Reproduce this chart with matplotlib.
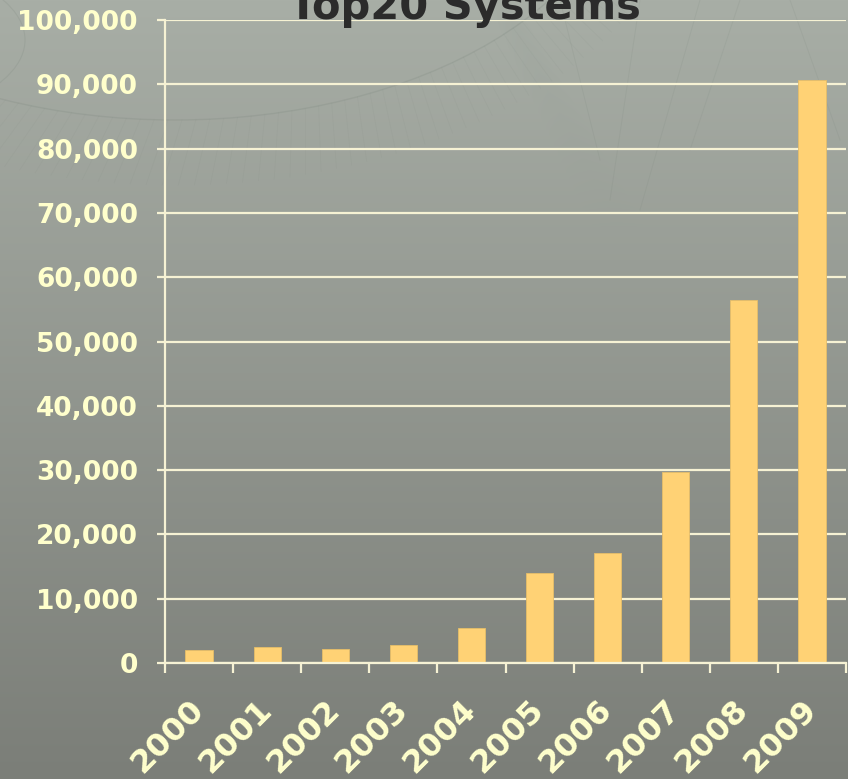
#!/usr/bin/env python3
import numpy as np
import matplotlib
matplotlib.use("Agg")
import matplotlib.pyplot as plt
from matplotlib.patches import Arc
from matplotlib.ticker import FuncFormatter
import matplotlib.transforms as mtransforms

years = ['2000', '2001', '2002', '2003', '2004', '2005', '2006', '2007', '2008', '2009']
totals = [2050, 2480, 2120, 2800, 5430, 14000, 17030, 29660, 56500, 90700]
title = 'Top20 Systems'

cream = '#FFFFCC'
grid_col = '#F6F2D4'
bar_col = '#FFD275'

matplotlib.rcParams['font.weight'] = 'bold'

W, H = 848, 779
fig = plt.figure(figsize=(W / 100, H / 100), dpi=100)

# slide background: vertical grey-green gradient, a soft darker diagonal band
yy, xx = np.mgrid[0:H, 0:W].astype(float)
t = yy / (H - 1)
top = np.array([168, 174, 166]) / 255
bot = np.array([123, 126, 120]) / 255
img = top * (1 - t[..., None]) + bot * t[..., None]
# band running from (500, 0) down to (615, 220), fading out with depth
cx = 500 + (yy / 220.0) * 115
half = 14 + yy * 0.06
inside = np.clip(1 - np.abs(xx - cx) / half, 0, 1) ** 0.5
fade = np.clip(1 - yy / 240.0, 0, 1)
dark = 0.06 * inside * fade
img = img * (1 - dark[..., None]) + np.array([0.45, 0.52, 0.49]) * dark[..., None]

bg = fig.add_axes([0, 0, 1, 1])
bg.imshow(img, aspect='auto', extent=[0, W, H, 0], interpolation='bilinear')
bg.set_xlim(0, W)
bg.set_ylim(H, 0)
bg.axis('off')

line_col = '#7A857C'
bg.add_patch(Arc((175, -150), 900, 540, theta1=0, theta2=180, color=line_col, lw=1.0, alpha=0.22))
for a in np.radians(np.linspace(20, 160, 80)):
    xa, ya = 175 + 450 * np.cos(a), -150 + 270 * np.sin(a)
    xb, yb = 175 + 520 * np.cos(a + 0.04), -150 + 335 * np.sin(a + 0.04)
    bg.plot([xa, xb], [ya, yb], color=line_col, lw=0.5, alpha=0.10)
bg.add_patch(Arc((-160, 40), 370, 170, theta1=-90, theta2=90, color=line_col, lw=0.8, alpha=0.2))
for (xa, ya, xb, yb) in [(560, 0, 600, 160), (640, 0, 610, 200), (700, 0, 640, 210),
                          (740, 0, 690, 150), (790, 0, 840, 140)]:
    bg.plot([xa, xb], [ya, yb], color=line_col, lw=0.7, alpha=0.15)

# chart area
x0, x1 = 165, 846
y0, y1 = 663, 20
ax = fig.add_axes([x0 / W, 1 - y0 / H, (x1 - x0) / W, (y0 - y1) / H])
ax.patch.set_alpha(0)

idx = np.arange(len(years))
ax.bar(idx, totals, width=0.4, color=bar_col, edgecolor='#E6BE69', linewidth=0.6, zorder=3)

ax.set_xlim(-0.5, len(years) - 0.5)
ax.set_ylim(0, 100000)
ax.set_yticks(np.arange(0, 100001, 10000))
ax.yaxis.set_major_formatter(FuncFormatter(lambda v, p: f'{int(v):,}'))
ax.grid(axis='y', color=grid_col, lw=1.6, zorder=1)
ax.set_axisbelow(True)

for s in ('top', 'right'):
    ax.spines[s].set_visible(False)
for s in ('left', 'bottom'):
    ax.spines[s].set_color(grid_col)
    ax.spines[s].set_linewidth(1.6)
    ax.spines[s].set_zorder(4)

ax.tick_params(axis='y', colors=grid_col, length=6, width=1.6, pad=13.5,
               labelcolor=cream, labelsize=19)

# tick marks at the category boundaries, year labels in the middle
ax.set_xticks(np.arange(-0.5, len(years)))
ax.set_xticklabels([])
ax.tick_params(axis='x', colors=grid_col, length=7.5, width=1.6)
lab_tf = ax.get_xaxis_transform() + mtransforms.ScaledTranslation(0, -42 / 100, fig.dpi_scale_trans)
for i, yr in enumerate(years):
    ax.text(i, 0, yr, transform=lab_tf, rotation=45, rotation_mode='anchor',
            ha='right', va='center', fontsize=23, fontweight='bold', color=cream,
            clip_on=False)

fig.text(465 / W, 1 - 19 / H, title, ha='center', va='baseline',
         fontsize=30, fontweight='bold', color='#2B2B2B')

fig.savefig('out.png', dpi=100)
